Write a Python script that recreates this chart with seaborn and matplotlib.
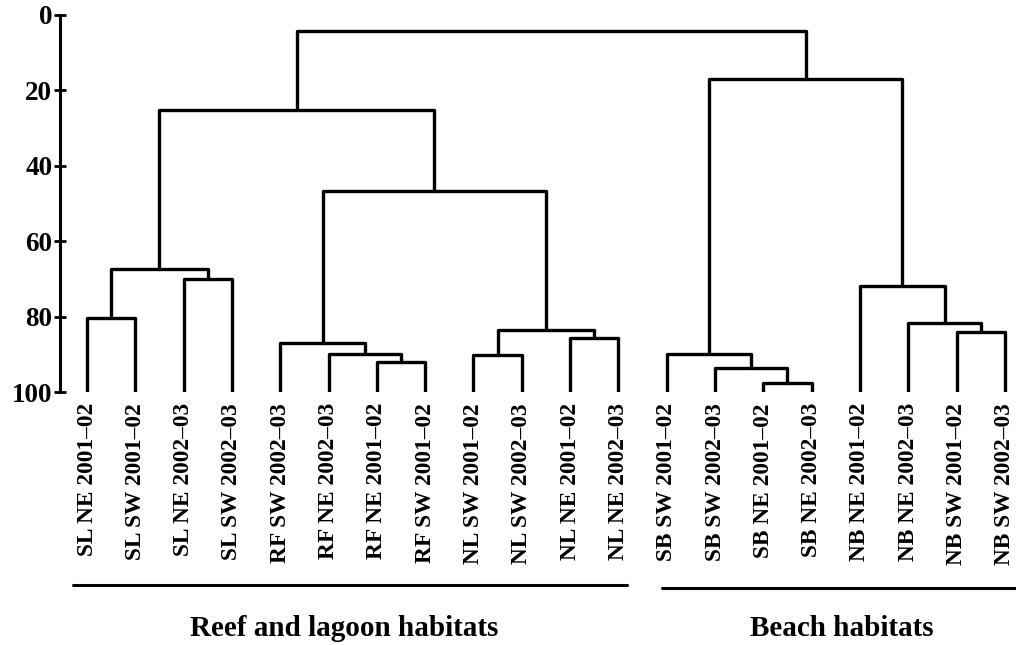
import matplotlib
matplotlib.use("Agg")
import matplotlib.pyplot as plt
import matplotlib.transforms as mtransforms
import pandas as pd
import seaborn as sns

# leaves, left to right
leaves = ["SL NE 2001–02", "SL SW 2001–02", "SL NE 2002–03", "SL SW 2002–03",
          "RF SW 2002–03", "RF NE 2002–03", "RF NE 2001–02", "RF SW 2001–02",
          "NL SW 2001–02", "NL SW 2002–03", "NL NE 2001–02", "NL NE 2002–03",
          "SB SW 2001–02", "SB SW 2002–03", "SB NE 2001–02", "SB NE 2002–03",
          "NB NE 2001–02", "NB NE 2002–03", "NB SW 2001–02", "NB SW 2002–03"]

# merges: (left node, right node, level); new clusters are numbered 20, 21, ...
merge_left = [0, 2, 20, 6, 5, 4, 8, 10, 26, 25, 22, 14, 13, 12, 18, 17, 16, 33, 30]
merge_right = [1, 3, 21, 7, 23, 24, 9, 11, 27, 28, 29, 15, 31, 32, 19, 34, 35, 36, 37]
merge_level = [80.3, 70.0, 67.5, 92.0, 90.0, 87.0, 90.1, 85.6, 83.5, 46.7, 25.3,
               97.6, 93.6, 90.0, 84.0, 81.6, 72.0, 17.0, 4.3]

groups = ["Reef and lagoon habitats", "Beach habitats"]
yticks = [0, 20, 40, 60, 80, 100]

# build the U-shaped links
pos = {i: float(i) for i in range(len(leaves))}
height = {i: 100.0 for i in range(len(leaves))}
rows = []
for k, (a, b, h) in enumerate(zip(merge_left, merge_right, merge_level)):
    pts = [(pos[a], height[a]), (pos[a], h), (pos[b], h), (pos[b], height[b])]
    for j, (x, y) in enumerate(pts):
        rows.append({"link": k, "order": j, "x": x, "y": y})
    new = len(leaves) + k
    pos[new] = (pos[a] + pos[b]) / 2
    height[new] = h
links = pd.DataFrame(rows)

sns.set_style("ticks")
plt.rcParams["font.family"] = ["Liberation Serif", "DejaVu Serif"]
plt.rcParams["font.weight"] = "bold"
for key in ["text.color", "axes.labelcolor", "xtick.color", "ytick.color", "axes.edgecolor"]:
    plt.rcParams[key] = "black"

fig = plt.figure(figsize=(10.16, 6.45), dpi=100)
ax = fig.add_axes([60 / 1016, 1 - 392 / 645, 956 / 1016, 377 / 645])

sns.lineplot(data=links, x="x", y="y", units="link", estimator=None, sort=False,
             color="black", linewidth=2.4, ax=ax, legend=False)

ax.set_xlim(-0.559, 19.23)
ax.set_ylim(100, 0)
ax.set_yticks(yticks)
ax.set_yticklabels([str(t) for t in yticks], fontsize=19.5, fontweight="bold")
ax.set_xticks(range(len(leaves)))
ax.set_xticklabels(leaves, rotation=90, fontsize=16.8, fontweight="bold", va="top")
ax.tick_params(axis="x", length=0, pad=8)
ax.tick_params(axis="y", direction="inout", length=9, width=2, pad=1)
ax.set_xlabel("")
ax.set_ylabel("")
for s in ["top", "right", "bottom"]:
    ax.spines[s].set_visible(False)
ax.spines["left"].set_linewidth(2.2)

# group brackets under the labels
trans = mtransforms.blended_transform_factory(ax.transData, fig.transFigure)
ax.plot([-0.29, 11.18], [0.093, 0.093], color="black", lw=2.2, transform=trans, clip_on=False)
ax.plot([11.9, 19.3], [0.088, 0.088], color="black", lw=2.2, transform=trans, clip_on=False)
ax.text(5.32, 0.026, groups[0], transform=trans, ha="center", va="center",
        fontsize=21, fontweight="bold")
ax.text(15.63, 0.026, groups[1], transform=trans, ha="center", va="center",
        fontsize=21, fontweight="bold")

fig.savefig("out.png", dpi=100, facecolor="white")
